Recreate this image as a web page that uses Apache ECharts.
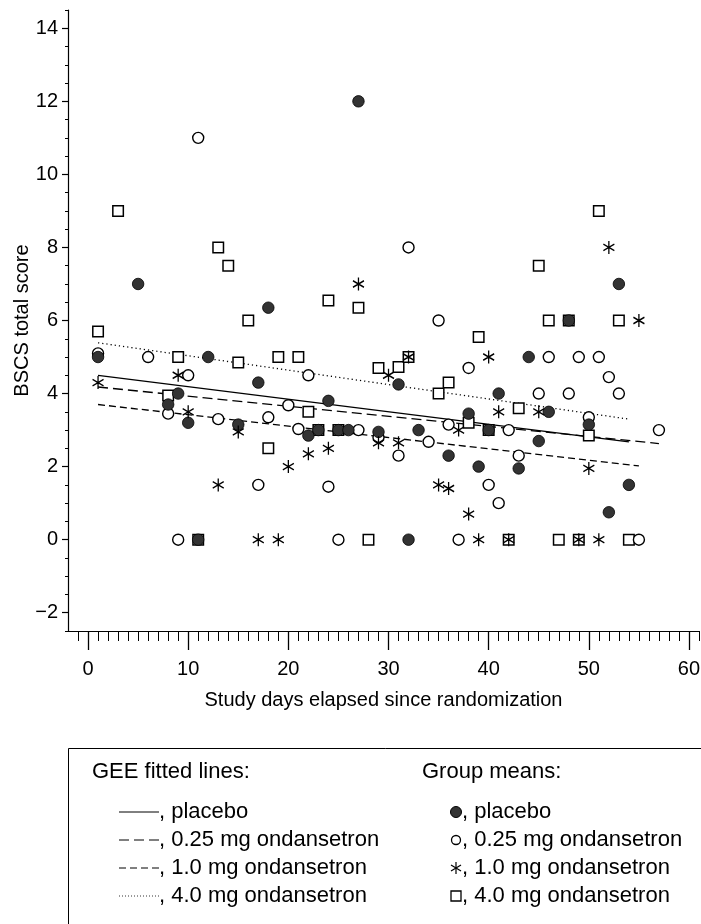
<!DOCTYPE html>
<html>
<head>
<meta charset="utf-8">
<script src="https://cdn.jsdelivr.net/npm/echarts@6/dist/echarts.min.js"></script>
<style>
  html, body { margin: 0; padding: 0; background: #fff; }
  #chart { width: 701px; height: 924px; }
</style>
</head>
<body>
<div id="chart"></div>
<script>
// group means, [study day, BSCS total score]
var placeboMeans = [
  [1, 5.0], [5, 7.0], [8, 3.7], [9, 4.0], [10, 3.2], [11, 0], [12, 5.0], [15, 3.15],
  [17, 4.3], [18, 6.35], [22, 2.85], [23, 3.0], [24, 3.8], [25, 3.0], [26, 3.0],
  [27, 12.0], [29, 2.95], [31, 4.25], [32, 0], [33, 3.0], [36, 2.3], [38, 3.45],
  [39, 2.0], [40, 3.0], [41, 4.0], [43, 1.95], [44, 5.0], [45, 2.7], [46, 3.5],
  [48, 6.0], [50, 3.15], [52, 0.75], [53, 7.0], [54, 1.5]
];
var ond025Means = [
  [1, 5.1], [6, 5.0], [8, 3.45], [9, 0], [10, 4.5], [11, 11.0], [13, 3.3], [17, 1.5],
  [18, 3.35], [20, 3.68], [21, 3.03], [22, 4.5], [24, 1.45], [25, 0], [27, 3.0],
  [29, 2.8], [31, 2.3], [32, 8.0], [34, 2.68], [35, 6.0], [36, 3.15], [37, 0],
  [38, 4.7], [40, 1.5], [41, 1.0], [42, 3.0], [43, 2.3], [45, 4.0], [46, 5.0],
  [48, 4.0], [49, 5.0], [50, 3.35], [51, 5.0], [52, 4.45], [53, 4.0], [55, 0], [57, 3.0]
];
var ond10Means = [
  [1, 4.3], [9, 4.5], [10, 3.5], [13, 1.5], [15, 2.95], [17, 0], [19, 0], [20, 2.0],
  [22, 2.35], [24, 2.5], [27, 7.0], [29, 2.65], [30, 4.5], [31, 2.65], [32, 5.0],
  [35, 1.5], [36, 1.4], [37, 3.0], [38, 0.7], [39, 0], [40, 5.0], [41, 3.5], [42, 0],
  [45, 3.5], [49, 0], [50, 1.95], [51, 0], [52, 8.0], [55, 6.0]
];
var ond40Means = [
  [1, 5.7], [3, 9.0], [8, 3.95], [9, 5.0], [11, 0], [13, 8.0], [14, 7.5], [15, 4.85],
  [16, 6.0], [18, 2.5], [19, 5.0], [21, 5.0], [22, 3.5], [23, 3.0], [24, 6.55],
  [25, 3.0], [27, 6.35], [28, 0], [29, 4.7], [31, 4.73], [32, 5.0], [35, 4.0],
  [36, 4.3], [38, 3.2], [39, 5.55], [40, 3.0], [42, 0], [43, 3.6], [45, 7.5],
  [46, 6.0], [47, 0], [48, 6.0], [49, 0], [50, 2.85], [51, 9.0], [53, 6.0], [54, 0]
];

// GEE fitted lines, start and end
var geePlacebo = [[1, 4.5], [54, 2.68]];
var gee025 = [[1, 4.18], [57, 2.63]];
var gee10 = [[1, 3.7], [55, 2.02]];
var gee40 = [[1, 5.39], [54, 3.3]];

var xMajorTicks = [0, 10, 20, 30, 40, 50, 60];
var yMajorTicks = [-2, 0, 2, 4, 6, 8, 10, 12, 14];
var xMinorTicks = [];
for (var i = -1; i <= 61; i++) { if (i % 10 !== 0) xMinorTicks.push(i); }
var yMinorTicks = [];
for (var j = -2.5; j <= 14.5; j += 0.5) { if (j % 2 !== 0) yMinorTicks.push(j); }

var FONT = '"Liberation Sans", Arial, sans-serif';
var LFONT = '22px ' + FONT;
var ASTERISK = 'path://M5,0L5,12M0,3L10,9M0,9L10,3';

var chart = echarts.init(document.getElementById('chart'));

function fitLine(data, dash) {
  return {
    type: 'line', data: data, symbol: 'none', silent: true, z: 1,
    lineStyle: { color: '#000', width: 1.3, type: dash }
  };
}

// legend is drawn as plain graphic, two columns
var rows = [812, 840, 868, 896];
var rowNames = [', placebo', ', 0.25 mg ondansetron', ', 1.0 mg ondansetron', ', 4.0 mg ondansetron'];
var dashes = [null, [10, 5], [7, 4], [1, 2]];
var mx = 456;
var legend = [
  { type: 'rect', shape: { x: 68.5, y: 748.5, width: 700, height: 220 },
    style: { fill: 'none', stroke: '#000', lineWidth: 1 } },
  { type: 'text', x: 92, y: 772, style: { text: 'GEE fitted lines:', font: LFONT, fill: '#000', verticalAlign: 'middle' } },
  { type: 'text', x: 422, y: 772, style: { text: 'Group means:', font: LFONT, fill: '#000', verticalAlign: 'middle' } }
];
rows.forEach(function (y, k) {
  legend.push({ type: 'line', shape: { x1: 119, y1: y, x2: 159, y2: y },
    style: { stroke: '#000', lineWidth: k === 3 ? 0.8 : 1, lineDash: dashes[k] } });
  legend.push({ type: 'text', x: 159, y: y, style: { text: rowNames[k], font: LFONT, fill: '#000', verticalAlign: 'middle' } });
  legend.push({ type: 'text', x: 462, y: y, style: { text: rowNames[k], font: LFONT, fill: '#000', verticalAlign: 'middle' } });
});
legend.push({ type: 'circle', shape: { cx: mx, cy: rows[0], r: 5.5 }, style: { fill: '#333', stroke: '#000', lineWidth: 1 } });
legend.push({ type: 'circle', shape: { cx: mx, cy: rows[1], r: 4.5 }, style: { fill: '#fff', stroke: '#000', lineWidth: 1.3 } });
[[0, -6, 0, 6], [-5, -3, 5, 3], [-5, 3, 5, -3]].forEach(function (a) {
  legend.push({ type: 'line', shape: { x1: mx + a[0], y1: rows[2] + a[1], x2: mx + a[2], y2: rows[2] + a[3] },
    style: { stroke: '#000', lineWidth: 1.2 } });
});
legend.push({ type: 'rect', shape: { x: mx - 5, y: rows[3] - 5, width: 10, height: 10 }, style: { fill: '#fff', stroke: '#000', lineWidth: 1.3 } });

var option = {
  animation: false,
  backgroundColor: '#fff',
  textStyle: { fontFamily: FONT },
  grid: { left: 68, top: 10, width: 631, height: 621, containLabel: false, outerBoundsMode: 'none' },
  xAxis: [{
    type: 'value', min: -2, max: 61,
    name: 'Study days elapsed since randomization', nameLocation: 'middle', nameGap: 59,
    nameTextStyle: { fontSize: 20, color: '#000', fontFamily: FONT },
    axisLine: { show: true, onZero: false, lineStyle: { color: '#000', width: 1.2 } },
    axisTick: { show: true, inside: false, length: 19, customValues: xMajorTicks, lineStyle: { color: '#000', width: 1.3 } },
    axisLabel: { customValues: xMajorTicks, margin: 28, fontSize: 20, color: '#000', fontFamily: FONT },
    splitLine: { show: false }
  }, {
    type: 'value', min: -2, max: 61, position: 'bottom',
    axisLine: { show: false, onZero: false },
    axisTick: { show: true, length: 10, customValues: xMinorTicks, lineStyle: { color: '#000', width: 1 } },
    axisLabel: { show: false },
    splitLine: { show: false }
  }],
  yAxis: [{
    type: 'value', min: -2.5, max: 14.5,
    name: 'BSCS total score', nameLocation: 'middle', nameGap: 36, nameMoveOverlap: false,
    nameTextStyle: { fontSize: 20, color: '#000', fontFamily: FONT },
    axisLine: { show: true, onZero: false, lineStyle: { color: '#000', width: 1.2 } },
    axisTick: { show: true, length: 6, customValues: yMajorTicks, lineStyle: { color: '#000', width: 1.2 } },
    axisLabel: { customValues: yMajorTicks, margin: 10, fontSize: 20, color: '#000', fontFamily: FONT,
      formatter: function (v) { return String(v).replace('-', '\u2212'); } },
    splitLine: { show: false }
  }, {
    type: 'value', min: -2.5, max: 14.5, position: 'left',
    axisLine: { show: false, onZero: false },
    axisTick: { show: true, length: 3, customValues: yMinorTicks, lineStyle: { color: '#000', width: 1 } },
    axisLabel: { show: false },
    splitLine: { show: false }
  }],
  series: [
    fitLine(geePlacebo, 'solid'),
    fitLine(gee025, [10, 5]),
    fitLine(gee10, [7, 4]),
    fitLine(gee40, [1.2, 3]),
    {
      name: '4.0 mg', type: 'scatter', data: ond40Means, symbol: 'rect', symbolSize: 10.5, z: 2,
      itemStyle: { color: '#fff', borderColor: '#000', borderWidth: 1.5, opacity: 1 }
    },
    {
      name: '0.25 mg', type: 'scatter', data: ond025Means, symbol: 'circle', symbolSize: 11, z: 3,
      itemStyle: { color: '#fff', borderColor: '#000', borderWidth: 1.4, opacity: 1 }
    },
    {
      name: 'placebo', type: 'scatter', data: placeboMeans, symbol: 'circle', symbolSize: 11.5, z: 4,
      itemStyle: { color: '#333', borderColor: '#000', borderWidth: 0.8, opacity: 1 }
    },
    {
      name: '1.0 mg', type: 'scatter', data: ond10Means, symbol: ASTERISK, symbolSize: [11, 13], z: 5,
      itemStyle: { color: 'none', borderColor: '#000', borderWidth: 1.4, opacity: 1 }
    }
  ],
  graphic: legend
};

chart.setOption(option);
</script>
</body>
</html>
